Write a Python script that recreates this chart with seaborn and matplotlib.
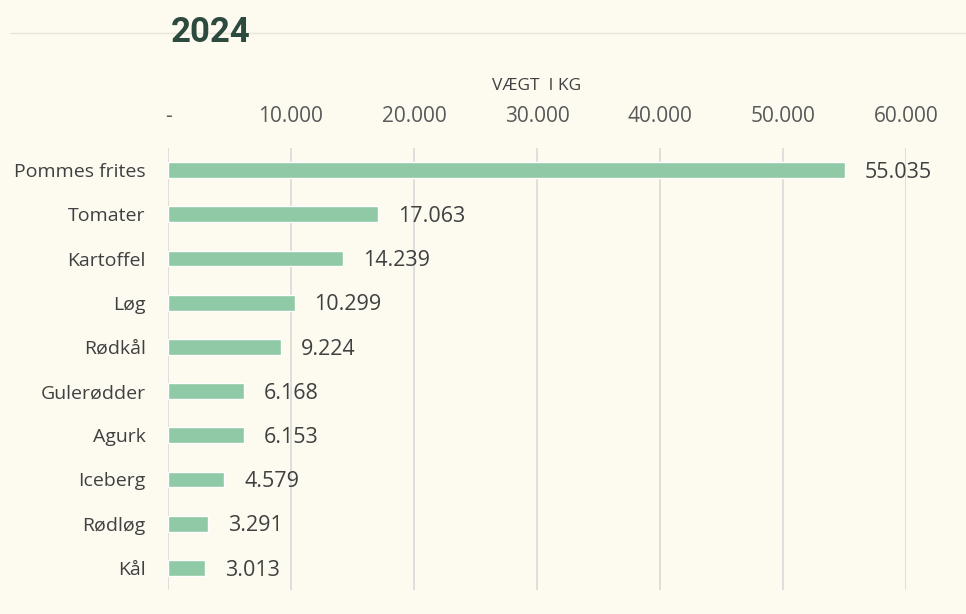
import pandas as pd
import seaborn as sns
import matplotlib.pyplot as plt
from matplotlib import lines

# ====================
# Data
# ====================

products = ['Pommes frites', 'Tomater', 'Kartoffel', 'Løg', 'Rødkål',
            'Gulerødder', 'Agurk', 'Iceberg', 'Rødløg', 'Kål']
weights = [55035, 17063, 14239, 10299, 9224, 6168, 6153, 4579, 3291, 3013]
ticks = [0, 10000, 20000, 30000, 40000, 50000, 60000]

df = pd.DataFrame({'produkt': products, 'vaegt': weights})


def dk(v):
    return '-' if v == 0 else f'{v:,.0f}'.replace(',', '.')


# ====================
# Plotting
# ====================

bg = '#fdfaf0'
sns.set_style('white')
plt.rcParams['font.family'] = ['Open Sans', 'DejaVu Sans']

fig = plt.figure(figsize=(9.66, 6.14), dpi=100, facecolor=bg)
ax = fig.add_axes([168 / 966, 24 / 614, 738 / 966, 442 / 614])
ax.set_facecolor(bg)

sns.barplot(data=df, x='vaegt', y='produkt', color='#8fc9a5', width=0.36,
            saturation=1, ax=ax, zorder=3)

ax.set_xlim(0, 60000)
ax.set_xticks(ticks)
ax.set_xticklabels([dk(t) for t in ticks])
ax.xaxis.tick_top()
ax.tick_params(axis='x', length=0, pad=15, labelsize=15, labelcolor='#595959')
ax.tick_params(axis='y', length=0, pad=16, labelsize=14, labelcolor='#404040')
ax.grid(axis='x', color='#d9d9d9', linewidth=1.2, zorder=0)
ax.set_axisbelow(True)
for s in ax.spines.values():
    s.set_visible(False)
ax.set_ylabel('')
ax.set_xlabel('VÆGT  I KG', fontsize=12.5, color='#404040', labelpad=12)
ax.xaxis.set_label_position('top')

for i, v in enumerate(weights):
    ax.text(v + 1600, i + 0.05, dk(v), va='center', ha='left', fontsize=15.5,
            color='#404040')

fig.add_artist(lines.Line2D([10 / 966, 1], [1 - 33 / 614, 1 - 33 / 614],
                            color='#e6e6da', linewidth=1))
fig.text(171 / 966, 1 - 33 / 614, '2024', ha='left', va='center', fontsize=25,
         fontweight='bold', color='#2d4a3e', family=['Roboto', 'DejaVu Sans'])

fig.savefig('out.png', dpi=100, facecolor=bg)
